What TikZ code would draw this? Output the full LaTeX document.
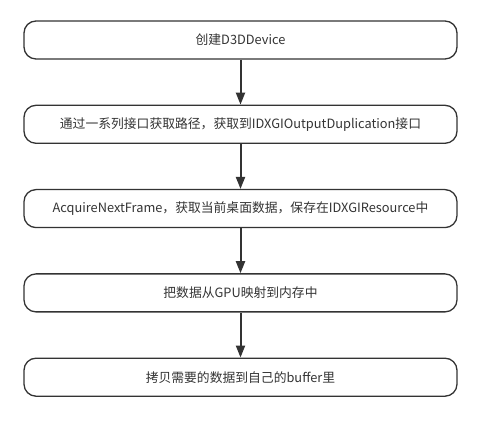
\documentclass[tikz,border=0pt]{standalone}
\usepackage{fontspec}
\setmainfont{Noto Sans CJK SC}
\usetikzlibrary{positioning, arrows.meta}
\definecolor{ink}{HTML}{333333}

\begin{document}
\begin{tikzpicture}[x=1pt, y=1pt, node distance=45pt,
    stepbox/.style = {draw=ink, line width=1.3pt, rounded corners=12pt,
        minimum width=433pt, minimum height=38pt, inner sep=0pt,
        font=\fontsize{12.8}{14}\selectfont, text=ink},
    flow/.style = {-{Triangle[length=12pt, width=9pt]}, draw=ink, line width=2pt}]
    \useasboundingbox (0,0) rectangle (483,425);
    \node[stepbox] (device) at (240.5,385) {创建D3DDevice};
    \node[stepbox, below=of device] (dupl) {通过一系列接口获取路径，获取到IDXGIOutputDuplication接口};
    \node[stepbox, below=of dupl] (frame) {AcquireNextFrame，获取当前桌面数据，保存在IDXGIResource中};
    \node[stepbox, below=of frame] (map) {把数据从GPU映射到内存中};
    \node[stepbox, below=of map] (copy) {拷贝需要的数据到自己的buffer里};
    \draw[flow] (device) -- (dupl);
    \draw[flow] (dupl) -- (frame);
    \draw[flow] (frame) -- (map);
    \draw[flow] (map) -- (copy);
\end{tikzpicture}
\end{document}
